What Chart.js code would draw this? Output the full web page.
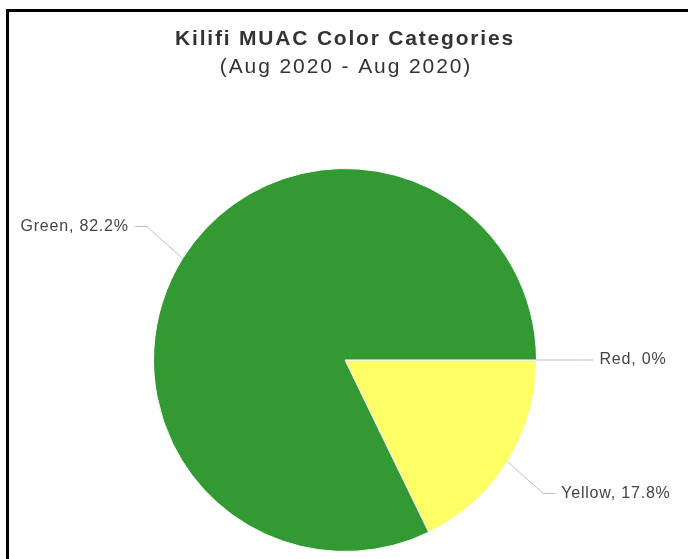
<!DOCTYPE html>
<html>
<head>
<meta charset="utf-8">
<script src="https://cdn.jsdelivr.net/npm/chart.js@4"></script>
<style>
  html, body { margin: 0; padding: 0; background: #fff; overflow: hidden; }
  #frame {
    position: absolute; left: 6px; top: 9px; width: 700px; height: 600px;
    border-top: 3px solid #000; border-left: 3px solid #000;
  }
  #pieChart { position: absolute; left: 0; top: 0; }
</style>
</head>
<body>
<div id="frame"></div>
<canvas id="pieChart" width="688" height="559"></canvas>
<script>
// chart data
const categories = ["Red", "Yellow", "Green"];
const shares = [0, 17.8, 82.2];
const sliceColors = ["#e03c31", "#ffff66", "#339933"];

const titleText = "Kilifi MUAC Color Categories";
const subtitleText = "(Aug 2020 - Aug 2020)";

const FONT = "'Liberation Sans', Arial, sans-serif";

// Title + subtitle, drawn by hand so the (wide) letter spacing can be matched
const header = {
    id: "header",
    afterDraw(chart) {
        const ctx = chart.ctx;
        const cx = chart.width / 2;
        ctx.save();
        ctx.textAlign = "center";
        ctx.textBaseline = "alphabetic";
        ctx.fillStyle = "#333333";

        ctx.font = "bold 21px " + FONT;
        ctx.letterSpacing = "1.8px";
        ctx.fillText(titleText, cx + 1, 45);

        ctx.font = "21px " + FONT;
        ctx.letterSpacing = "1.9px";
        ctx.fillText(subtitleText, cx + 2, 73);
        ctx.restore();
    }
};

// Draws "Name, x%" labels outside the pie with bent connector lines
const outsideLabels = {
    id: "outsideLabels",
    afterDatasetsDraw(chart) {
        const ctx = chart.ctx;
        const meta = chart.getDatasetMeta(0);
        const values = chart.data.datasets[0].data;
        const total = values.reduce((a, b) => a + b, 0);

        ctx.save();
        ctx.font = "16px " + FONT;
        ctx.letterSpacing = "0.8px";
        ctx.textBaseline = "middle";

        meta.data.forEach((arc, i) => {
            const p = arc.getProps(["x", "y", "startAngle", "endAngle", "outerRadius"], true);
            const mid = (p.startAngle + p.endAngle) / 2;
            const cos = Math.cos(mid);
            const sin = Math.sin(mid);
            const side = cos >= 0 ? 1 : -1;

            const edgeX = p.x + cos * p.outerRadius;
            const edgeY = p.y + sin * p.outerRadius;
            const far = p.outerRadius + 60;
            const anchorX = p.x + cos * far;
            const anchorY = p.y + sin * far;

            // connector
            ctx.strokeStyle = "#b9bfca";
            ctx.lineWidth = 1;
            ctx.beginPath();
            ctx.moveTo(edgeX, edgeY);
            ctx.lineTo(anchorX - side * 15, anchorY);
            ctx.lineTo(anchorX - side * 3, anchorY);
            ctx.stroke();

            const pct = Number((values[i] / total * 100).toFixed(1));
            ctx.fillStyle = "#444444";
            ctx.textAlign = side > 0 ? "left" : "right";
            ctx.fillText(chart.data.labels[i] + ", " + pct + "%", anchorX + side * 3, anchorY);
        });
        ctx.restore();
    }
};

const ctx = document.getElementById("pieChart").getContext("2d");

const pieChart = new Chart(ctx, {
    type: "pie",
    data: {
        labels: categories,
        datasets: [
            {
                data: shares,
                backgroundColor: sliceColors,
                borderColor: "#ffffff",
                borderWidth: 1,
            },
        ],
    },
    options: {
        responsive: false,
        animation: false,
        rotation: 90,
        layout: {
            padding: { top: 168, left: 153, right: 151, bottom: 7 },
        },
        plugins: {
            legend: { display: false },
            tooltip: { enabled: false },
            title: { display: false },
        },
    },
    plugins: [outsideLabels, header],
});
</script>
</body>
</html>
